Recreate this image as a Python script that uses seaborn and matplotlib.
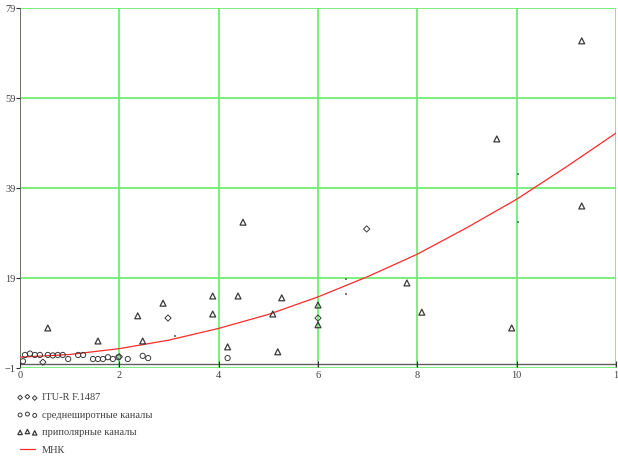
import matplotlib
matplotlib.use("Agg")
import matplotlib.pyplot as plt
import seaborn as sns
import pandas as pd

# ITU-R F.1487 points
itu_x = [0.46, 2.0, 2.98, 6.0, 6.98]
itu_y = [0.3, 1.5, 10.1, 10.1, 29.9]

# mid-latitude channels
mid_x = [0.06, 0.1, 0.2, 0.3, 0.4, 0.56, 0.66, 0.76, 0.86, 0.97, 1.17, 1.27,
         1.47, 1.57, 1.67, 1.77, 1.87, 1.98, 2.17, 2.47, 2.58, 4.18]
mid_y = [0.5, 1.9, 2.2, 1.9, 1.9, 1.9, 1.8, 1.9, 1.9, 1.0, 1.9, 1.9,
         1.0, 1.0, 1.0, 1.4, 1.0, 1.4, 1.0, 1.7, 1.2, 1.2]

# polar channels
pol_x = [0.56, 1.57, 2.37, 2.47, 2.88, 3.88, 3.88, 4.18, 4.39, 4.49, 5.09,
         5.19, 5.27, 6.0, 6.0, 7.79, 8.09, 9.6, 9.9, 11.31, 11.31]
pol_y = [7.9, 5.0, 10.6, 5.0, 13.4, 15.0, 11.0, 3.7, 15.0, 31.4, 11.0,
         2.6, 14.6, 13.0, 8.6, 17.9, 11.4, 49.9, 7.9, 71.7, 35.0]

# faint dots without legend
dot_x = [3.12, 6.56, 6.56, 10.02, 10.02]
dot_y = [6.1, 18.8, 15.4, 42.1, 31.4]

# least squares curve
mnk_x = [0, 1, 2, 3, 4, 5, 6, 7, 8, 9, 10, 11, 12]
mnk_y = [1.4, 2.0, 3.3, 5.2, 7.8, 10.9, 14.8, 19.3, 24.3, 30.2, 36.5, 43.7, 51.2]

x_ticks = [0, 2, 4, 6, 8, 10, 12]
x_labels = ["0", "2", "4", "6", "8", "10", "1"]   # "12" is cut at the edge in the original
y_ticks = [-1, 19, 39, 59, 79]
y_labels = ["\u22121", "19", "39", "59", "79"]

sns.set_style("white")
plt.rcParams['font.family'] = ['Liberation Serif', 'DejaVu Serif']

grid_c = '#66ee66'
axis_c = '#606060'
mk_c = '#3a3a3a'

fig = plt.figure(figsize=(6.18, 4.57), dpi=100)
ax = fig.add_axes([20/618, 1 - 368/457, 596/618, 360/457])

for xv in x_ticks:
    ax.axvline(xv, color=grid_c, lw=1.2, zorder=0)
for yv in y_ticks:
    ax.axhline(yv, color=grid_c, lw=1.2, zorder=0)
ax.axhline(0, color=axis_c, lw=1.0, zorder=1)
ax.axvline(0, color=axis_c, lw=1.2, zorder=1)
ax.scatter(x_ticks, [0] * len(x_ticks), marker='|', s=25, color='#303030',
           linewidths=0.8, zorder=2, clip_on=False)

sns.lineplot(x=mnk_x, y=mnk_y, color='#ff2a2a', lw=0.9, ax=ax, label='МНК', zorder=3)
sns.scatterplot(x=itu_x, y=itu_y, marker='D', s=10, facecolors='none',
                edgecolor=mk_c, linewidth=0.7, ax=ax, label='ITU-R F.1487', zorder=4)
sns.scatterplot(x=mid_x, y=mid_y, marker='o', s=14, facecolors='none',
                edgecolor=mk_c, linewidth=0.7, ax=ax, label='среднеширотные каналы', zorder=4)
sns.scatterplot(x=pol_x, y=pol_y, marker='^', s=18, facecolors='none',
                edgecolor=mk_c, linewidth=0.9, ax=ax, label='приполярные каналы', zorder=4)
sns.scatterplot(x=dot_x, y=dot_y, marker='s', s=1, color='#777777',
                linewidth=0, ax=ax, zorder=4)

ax.set_xlim(0, 12)
ax.set_ylim(-1, 79)
ax.set_xticks(x_ticks)
ax.set_xticklabels(x_labels)
ax.set_yticks(y_ticks)
ax.set_yticklabels(y_labels)
ax.tick_params(axis='x', length=0, pad=2, labelsize=7.5, labelcolor='#404040')
ax.tick_params(axis='y', length=3, width=0.8, color='#303030', pad=0,
               labelsize=7.5, labelcolor='#404040', left=True)
for s in ['top', 'right', 'bottom', 'left']:
    ax.spines[s].set_visible(False)
ax.set_xlabel('')
ax.set_ylabel('')

handles, labels = ax.get_legend_handles_labels()
ax.get_legend().remove()
order = [labels.index(l) for l in ['ITU-R F.1487', 'среднеширотные каналы',
                                    'приполярные каналы', 'МНК']]
fig.legend([handles[i] for i in order], [labels[i] for i in order],
           loc='upper left', bbox_to_anchor=(17/618, 1 - 393/457),
           frameon=False, fontsize=7.5, scatterpoints=3, numpoints=3,
           markerscale=0.75, handlelength=2.0, handletextpad=0.4,
           labelspacing=0.78, borderpad=0, borderaxespad=0, labelcolor='#404040')

fig.savefig('out.png', dpi=100)
